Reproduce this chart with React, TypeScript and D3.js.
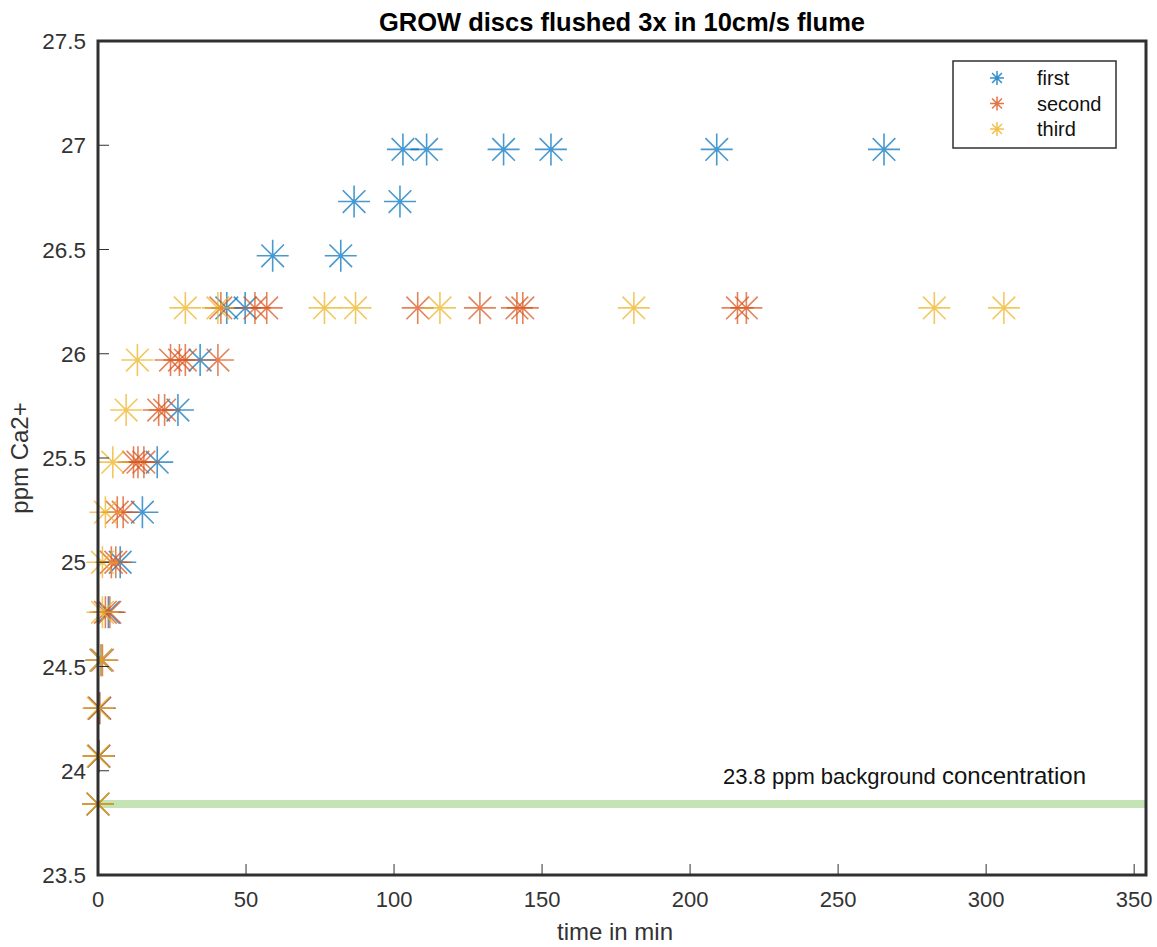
import React, { useEffect } from "react";
import * as d3 from "d3";

const W = 1157;
const H = 947;
const margin = { top: 41, right: 11, bottom: 72, left: 98 };

// series "first"
const firstTime = [0, 0.3, 0.5, 1, 3.5, 7.5, 15, 20, 27, 34.5, 43.5, 49.7, 59, 82, 86.5, 102, 103, 111, 137, 153, 209, 265.5];
const firstPpm = [23.84, 24.07, 24.3, 24.53, 24.76, 25.0, 25.24, 25.48, 25.73, 25.97, 26.22, 26.22, 26.47, 26.47, 26.73, 26.73, 26.98, 26.98, 26.98, 26.98, 26.98, 26.98];

// series "second"
const secondTime = [0, 0.3, 0.6, 1.5, 2.5, 4, 4.5, 6, 6.5, 8.5, 12, 13.5, 15.5, 20.5, 22.5, 24.5, 27.5, 29.5, 40.5, 41.5, 53, 57, 108, 129, 141.5, 143.5, 216, 219];
const secondPpm = [23.84, 24.07, 24.3, 24.53, 24.76, 24.76, 25.0, 25.0, 25.24, 25.24, 25.48, 25.48, 25.48, 25.73, 25.73, 25.97, 25.97, 25.97, 25.97, 26.22, 26.22, 26.22, 26.22, 26.22, 26.22, 26.22, 26.22, 26.22];

// series "third"
const thirdTime = [0, 0, 0.1, 1, 1.5, 1.5, 2.5, 5, 9.5, 13.3, 29.5, 40.5, 76.5, 87, 115.5, 181, 282.5, 306];
const thirdPpm = [23.84, 24.07, 24.3, 24.53, 24.76, 25.0, 25.24, 25.48, 25.73, 25.97, 26.22, 26.22, 26.22, 26.22, 26.22, 26.22, 26.22, 26.22];

const seriesNames = ["first", "second", "third"];
const seriesColors = ["#0072BD", "#D95319", "#EDB120"];

const xTicks = [0, 50, 100, 150, 200, 250, 300, 350];
const yTicks = [23.5, 24, 24.5, 25, 25.5, 26, 26.5, 27, 27.5];

const background = 23.84;
const backgroundLabel = ["23.8 ppm background ", "concentration"];

const titleText = "GROW discs flushed 3x in 10cm/s flume";
const xLabel = "time in min";
const yLabel = "ppm Ca2+";

// matlab style '*' marker: a plus with an x over it
const starType = {
  draw(ctx: any, r: number) {
    const d = r * Math.SQRT1_2;
    ctx.moveTo(-r, 0);
    ctx.lineTo(r, 0);
    ctx.moveTo(0, -r);
    ctx.lineTo(0, r);
    ctx.moveTo(-d, -d);
    ctx.lineTo(d, d);
    ctx.moveTo(-d, d);
    ctx.lineTo(d, -d);
  },
};

const App = () => {
  useEffect(() => {
    document.body.style.margin = "0";
  }, []);

  const innerW = W - margin.left - margin.right;
  const innerH = H - margin.top - margin.bottom;

  const x = d3.scaleLinear().domain([0, 354]).range([margin.left, margin.left + innerW]);
  const y = d3.scaleLinear().domain([23.5, 27.5]).range([margin.top + innerH, margin.top]);

  const star = d3.symbol().type(starType as any).size(16)();
  const legendStar = d3.symbol().type(starType as any).size(7)();

  const series = [
    { time: firstTime, ppm: firstPpm },
    { time: secondTime, ppm: secondPpm },
    { time: thirdTime, ppm: thirdPpm },
  ];

  const font = "'Liberation Sans', Arial, Helvetica, sans-serif";
  const textColor = "#333";

  return (
    <svg width={W} height={H} style={{ display: "block", background: "#fff" }} fontFamily={font}>
      {/* background line */}
      <line
        x1={x(0)}
        x2={x(354)}
        y1={y(background)}
        y2={y(background)}
        stroke="#c4e4b6"
        strokeWidth={8}
      />
      <text x={723} y={y(background) - 20} fontSize={22} fill="#111">
        {backgroundLabel[0]}
        <tspan fontSize={24}>{backgroundLabel[1]}</tspan>
      </text>

      {/* markers */}
      {series.map((s, si) => (
        <g key={si} stroke={seriesColors[si]} strokeWidth={1.6} strokeOpacity={0.72} fill="none">
          {s.time.map((t, i) => (
            <path key={i} d={star} transform={`translate(${x(t)},${y(s.ppm[i])})`} />
          ))}
        </g>
      ))}

      {/* axes box */}
      <path
        d={`M${x(0)},${y(27.5)}V${y(23.5)}H${x(354)}V${y(27.5)}Z`}
        fill="none"
        stroke="#303030"
        strokeWidth={3}
      />

      {/* x ticks */}
      {xTicks.map((t) => (
        <g key={t}>
          <line x1={x(t)} x2={x(t)} y1={y(23.5)} y2={y(23.5) - 11} stroke="#303030" strokeWidth={1} />
          <text x={x(t)} y={y(23.5) + 32} textAnchor="middle" fontSize={22} fill={textColor}>
            {t}
          </text>
        </g>
      ))}

      {/* y ticks */}
      {yTicks.map((v) => (
        <g key={v}>
          <line x1={x(0)} x2={x(0) + 11} y1={y(v)} y2={y(v)} stroke="#303030" strokeWidth={1} />
          <text x={x(0) - 12} y={y(v) + 8} textAnchor="end" fontSize={22.5} fill={textColor}>
            {v}
          </text>
        </g>
      ))}

      {/* labels */}
      <text x={615} y={940} textAnchor="middle" fontSize={24} fill={textColor}>
        {xLabel}
      </text>
      <text
        transform={`translate(28,${(y(23.5) + y(27.5)) / 2}) rotate(-90)`}
        textAnchor="middle"
        fontSize={24}
        fill={textColor}
      >
        {yLabel}
      </text>
      <text x={622} y={31} textAnchor="middle" fontSize={25.5} fontWeight="bold" fill="#000">
        {titleText}
      </text>

      {/* legend */}
      <rect x={953} y={61} width={163} height={87} fill="#fff" stroke="#303030" strokeWidth={1.5} />
      {seriesNames.map((name, i) => (
        <g key={name} transform={`translate(0,${78 + i * 25.5})`}>
          <path
            d={legendStar}
            transform="translate(997,0)"
            stroke={seriesColors[i]}
            strokeWidth={1.5}
            strokeOpacity={0.8}
            fill="none"
          />
          <text x={1037} y={7} fontSize={20} fill="#111">
            {name}
          </text>
        </g>
      ))}
    </svg>
  );
};

export default App;
